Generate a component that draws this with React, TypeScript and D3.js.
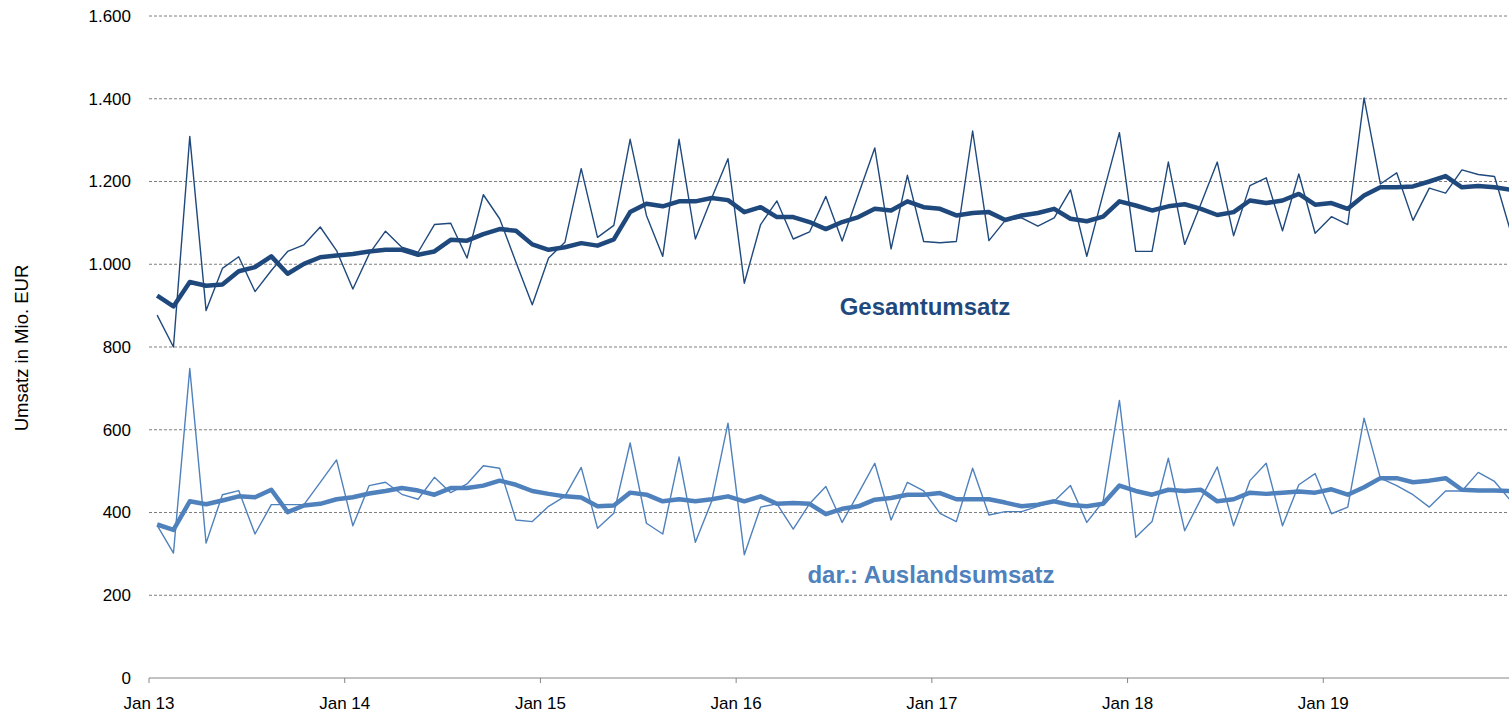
import React, { useEffect, useRef } from 'react';
import * as d3 from 'd3';

// Monthly data Jan 13 - Dec 19, in Mio. EUR
const years = ['13', '14', '15', '16', '17', '18', '19'];
const monthNames = ['Jan', 'Feb', 'Mar', 'Apr', 'May', 'Jun', 'Jul', 'Aug', 'Sep', 'Oct', 'Nov', 'Dec'];

const gesamtMonthly = [
  877, 800, 1309, 888, 990, 1018, 934, 985, 1031, 1047, 1090, 1033,
  940, 1025, 1080, 1041, 1029, 1096, 1099, 1015, 1168, 1110, 1005, 902,
  1015, 1053, 1231, 1065, 1094, 1302, 1118, 1019, 1302, 1061, 1160, 1255,
  954, 1096, 1153, 1061, 1078, 1164, 1056, 1169, 1281, 1037, 1215, 1055,
  1052, 1055, 1322, 1057, 1106, 1112, 1092, 1112, 1180, 1019, 1170, 1318,
  1031, 1031, 1247, 1048, 1146, 1247, 1069, 1190, 1209, 1081, 1218, 1075,
  1115, 1096, 1402, 1194, 1221, 1106, 1184, 1172, 1228, 1217, 1212, 1077,
];

const gesamtTrend = [
  924, 898, 957, 948, 951, 983, 993, 1019, 977, 1001, 1017, 1021,
  1025, 1031, 1035, 1035, 1023, 1031, 1059, 1057, 1073, 1085, 1081, 1048,
  1035, 1041, 1051, 1045, 1060, 1126, 1146, 1140, 1152, 1152, 1160, 1155,
  1126, 1138, 1114, 1114, 1102, 1085, 1102, 1114, 1134, 1130, 1152, 1138,
  1134, 1118, 1124, 1126, 1107, 1118, 1124, 1134, 1110, 1104, 1115, 1152,
  1142, 1130, 1140, 1145, 1134, 1119, 1126, 1154, 1148, 1154, 1170, 1144,
  1148, 1134, 1166, 1186, 1186, 1188, 1200, 1213, 1186, 1189, 1186, 1180,
];

const auslandMonthly = [
  369, 302, 748, 326, 443, 453, 348, 419, 419, 419, 473, 527,
  368, 465, 473, 444, 432, 485, 448, 469, 513, 507, 382, 378,
  415, 439, 509, 362, 398, 568, 374, 348, 534, 328, 427, 616,
  298, 413, 421, 360, 421, 463, 376, 447, 519, 382, 473, 452,
  398, 378, 507, 394, 402, 402, 415, 427, 465, 376, 427, 671,
  340, 378, 531, 356, 433, 510, 368, 477, 519, 368, 467, 494,
  397, 413, 628, 483, 465, 443, 413, 452, 452, 497, 475, 428,
];

const auslandTrend = [
  371, 358, 427, 420, 429, 439, 437, 455, 401, 417, 421, 432,
  437, 446, 452, 459, 453, 443, 459, 459, 465, 477, 467, 452,
  445, 439, 436, 415, 417, 448, 443, 427, 432, 427, 432, 439,
  427, 439, 421, 423, 421, 396, 409, 415, 431, 435, 443, 443,
  447, 432, 432, 432, 424, 415, 419, 427, 418, 415, 421, 465,
  452, 443, 455, 452, 455, 427, 432, 448, 445, 448, 451, 448,
  456, 443, 461, 483, 483, 473, 477, 483, 455, 453, 453, 452,
];

const yTicks = [0, 200, 400, 600, 800, 1000, 1200, 1400, 1600];

const categories = years.flatMap((y) => monthNames.map((m) => `${m} ${y}`));

const DARK = '#1F497D';
const LIGHT = '#4F81BD';
const FONT = '"Liberation Sans", Arial, sans-serif';

const App = () => {
  const chartRef = useRef<HTMLDivElement>(null);

  useEffect(() => {
    const width = 1509;
    const height = 713;
    const left = 149;
    const right = 1519; // last month runs slightly past the window
    const top = 16;
    const bottom = 678;

    const svg = d3
      .select(chartRef.current)
      .append('svg')
      .attr('width', width)
      .attr('height', height)
      .style('position', 'absolute')
      .style('left', 0)
      .style('top', 0)
      .style('font-family', FONT);

    const x = d3.scaleBand<string>().domain(categories).range([left, right]).padding(0);
    const y = d3.scaleLinear().domain([0, 1600]).range([bottom, top]);
    const cx = (i: number) => (x(categories[i]) as number) + x.bandwidth() / 2;

    // gridlines
    svg
      .append('g')
      .selectAll('line')
      .data(yTicks.filter((t) => t > 0))
      .enter()
      .append('line')
      .attr('x1', left)
      .attr('x2', right)
      .attr('y1', (d) => y(d))
      .attr('y2', (d) => y(d))
      .attr('stroke', '#7f7f7f')
      .attr('stroke-width', 1)
      .attr('stroke-dasharray', '3,2');

    // x axis line + year ticks
    svg
      .append('line')
      .attr('x1', left)
      .attr('x2', right)
      .attr('y1', y(0))
      .attr('y2', y(0))
      .attr('stroke', '#868686')
      .attr('stroke-width', 1);

    const janCats = categories.filter((c) => c.startsWith('Jan'));
    svg
      .append('g')
      .selectAll('line')
      .data(janCats)
      .enter()
      .append('line')
      .attr('x1', (d) => x(d) as number)
      .attr('x2', (d) => x(d) as number)
      .attr('y1', y(0))
      .attr('y2', y(0) + 5)
      .attr('stroke', '#868686');

    svg
      .append('g')
      .selectAll('text')
      .data(janCats)
      .enter()
      .append('text')
      .attr('x', (d) => x(d) as number)
      .attr('y', 709)
      .attr('text-anchor', 'middle')
      .attr('font-size', 17)
      .attr('fill', '#000')
      .text((d) => d);

    // y tick labels
    svg
      .append('g')
      .selectAll('text')
      .data(yTicks)
      .enter()
      .append('text')
      .attr('x', 131)
      .attr('y', (d) => y(d))
      .attr('dy', '0.35em')
      .attr('text-anchor', 'end')
      .attr('font-size', 17)
      .attr('fill', '#000')
      .text((d) => d3.format(',')(d).replace(/,/g, '.'));

    svg
      .append('text')
      .attr('transform', `translate(28,348) rotate(-90)`)
      .attr('text-anchor', 'middle')
      .attr('font-size', 18.5)
      .attr('fill', '#000')
      .text('Umsatz in Mio. EUR');

    const line = d3
      .line<number>()
      .x((_, i) => cx(i))
      .y((d) => y(d));

    const series = [
      { data: gesamtMonthly, color: DARK, w: 1.4 },
      { data: auslandMonthly, color: LIGHT, w: 1.4 },
      { data: gesamtTrend, color: DARK, w: 4.5 },
      { data: auslandTrend, color: LIGHT, w: 4.5 },
    ];

    series.forEach((s) => {
      svg
        .append('path')
        .datum(s.data)
        .attr('d', line)
        .attr('fill', 'none')
        .attr('stroke', s.color)
        .attr('stroke-width', s.w)
        .attr('stroke-linejoin', 'round');
    });

    svg
      .append('text')
      .attr('x', 925)
      .attr('y', 315)
      .attr('text-anchor', 'middle')
      .attr('font-size', 24)
      .attr('font-weight', 'bold')
      .attr('fill', DARK)
      .text('Gesamtumsatz');

    svg
      .append('text')
      .attr('x', 931)
      .attr('y', 583)
      .attr('text-anchor', 'middle')
      .attr('font-size', 24)
      .attr('font-weight', 'bold')
      .attr('fill', LIGHT)
      .text('dar.: Auslandsumsatz');

    return () => {
      d3.select(chartRef.current).selectAll('*').remove();
    };
  }, []);

  return <div ref={chartRef}></div>;
};

export default App;
